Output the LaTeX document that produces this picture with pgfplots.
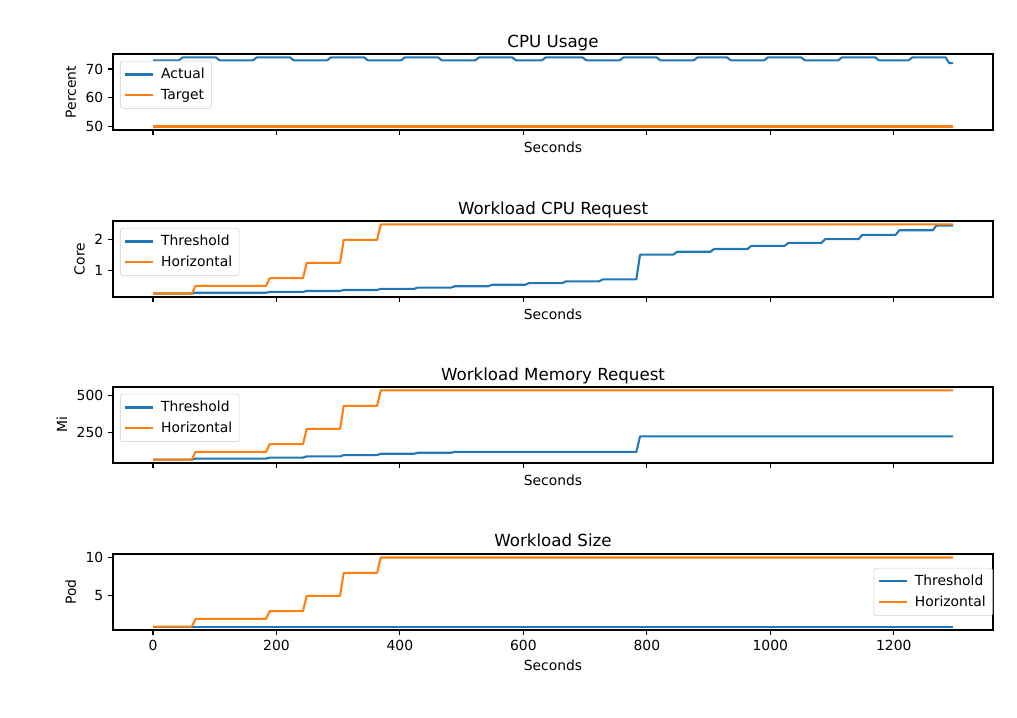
\documentclass[border=0pt]{standalone}
\usepackage{fontspec}
\setmainfont{DejaVu Sans}
\usepackage{pgfplots}
\pgfplotsset{compat=1.18}
\definecolor{mblue}{HTML}{1F77B4}
\definecolor{morange}{HTML}{FF7F0E}
\definecolor{legedge}{HTML}{CCCCCC}

\pgfplotsset{
  panel/.style={
    scale only axis, width=633.6pt, height=54.72pt,
    xmin=-64.8, xmax=1360.8,
    xtick={0,200,...,1200},
    tick pos=left, tick align=outside,
    major tick length=3.5pt,
    every tick/.style={black, line width=0.8pt},
    axis line style={line width=0.8pt},
    /pgf/number format/assume math mode=true,
    /pgf/number format/1000 sep={},
    tick label style={font=\fontsize{10}{12}\selectfont},
    label style={font=\fontsize{10}{12}\selectfont},
    title style={font=\fontsize{12}{14}\selectfont, yshift=-7pt},
    xlabel={Seconds},
    legend cell align=left,
    legend image code/.code={\draw[##1] (0pt,0pt) -- (20pt,0pt);},
    legend style={font=\fontsize{10}{12}\selectfont, draw=legedge, rounded corners=2pt,
      fill=white, fill opacity=0.8, text opacity=1, inner xsep=3pt, inner ysep=3pt,
      row sep=2pt, column sep=3pt, at={(0,1)}, anchor=north west, xshift=5pt, yshift=-5pt},
  },
  upper/.style={xticklabels={}, xlabel style={yshift=5pt}},
  sa/.style={mblue, line width=1.5pt, line join=round},
  sb/.style={morange, line width=1.5pt, line join=round},
}

\begin{document}
\begin{tikzpicture}
\useasboundingbox (0,0) rectangle (732.24pt,516.24pt);

% CPU usage
\begin{axis}[panel, upper, at={(81.36pt,422.64pt)}, anchor=south west,
  title={CPU Usage}, ylabel={Percent},
  ymin=48.8, ymax=75.2, ytick={50,60,70}]
\addplot[sa] coordinates {(0,73) (42,73) (48,74) (102,74) (108,73) (162,73) (168,74) (222,74) (228,73) (282,73) (288,74) (342,74) (348,73) (402,73) (408,74) (462,74) (468,73) (522,73) (528,74) (582,74) (588,73) (630,73) (636,74) (696,74) (702,73) (756,73) (762,74) (816,74) (822,73) (876,73) (882,74) (930,74) (936,73) (990,73) (996,74) (1050,74) (1056,73) (1110,73) (1116,74) (1170,74) (1176,73) (1224,73) (1230,74) (1284,74) (1290,72) (1296,72)};
\addlegendentry{Actual}
\addplot[sb] coordinates {(0,50) (1296,50)};
\addlegendentry{Target}
\end{axis}

% CPU request
\begin{axis}[panel, upper, at={(81.36pt,302.4pt)}, anchor=south west,
  title={Workload CPU Request}, ylabel={Core},
  ymin=0.1375, ymax=2.6125, ytick={1,2}]
\addplot[sa] coordinates {(0,0.25) (63,0.25) (69,0.275) (183,0.275) (189,0.3025) (243,0.3025) (249,0.333) (303,0.333) (309,0.366) (363,0.366) (369,0.403) (423,0.403) (429,0.443) (483,0.443) (489,0.487) (543,0.487) (549,0.536) (603,0.536) (609,0.589) (663,0.589) (669,0.648) (723,0.648) (729,0.713) (783,0.713) (789,1.52) (843,1.52) (849,1.61) (903,1.61) (909,1.70) (963,1.70) (969,1.80) (1023,1.80) (1029,1.90) (1083,1.90) (1089,2.02) (1143,2.02) (1149,2.16) (1203,2.16) (1209,2.31) (1263,2.31) (1269,2.46) (1296,2.46)};
\addlegendentry{Threshold}
\addplot[sb] coordinates {(0,0.25) (63,0.25) (69,0.5) (183,0.5) (189,0.75) (243,0.75) (249,1.25) (303,1.25) (309,2.0) (363,2.0) (369,2.5) (1296,2.5)};
\addlegendentry{Horizontal}
\end{axis}

% memory request
\begin{axis}[panel, upper, at={(81.36pt,182.88pt)}, anchor=south west,
  title={Workload Memory Request}, ylabel={Mi},
  ymin=40.6, ymax=555.4, ytick={250,500}]
\addplot[sa] coordinates {(0,64) (63,64) (69,70) (183,70) (189,77) (243,77) (249,85) (303,85) (309,94) (363,94) (369,103) (423,103) (429,110) (483,110) (489,116) (783,116) (789,221) (1296,221)};
\addlegendentry{Threshold}
\addplot[sb] coordinates {(0,64) (63,64) (69,116) (183,116) (189,168) (243,168) (249,272) (303,272) (309,428) (363,428) (369,532) (1296,532)};
\addlegendentry{Horizontal}
\end{axis}

% workload size
\begin{axis}[panel, at={(81.36pt,62.64pt)}, anchor=south west,
  title={Workload Size}, ylabel={Pod}, title style={yshift=3pt},
  ymin=0.55, ymax=10.45, ytick={5,10},
  legend style={at={(1,1)}, anchor=north east, xshift=-5pt, yshift=-5pt}]
\addplot[sa] coordinates {(0,1) (1296,1)};
\addlegendentry{Threshold}
\addplot[sb] coordinates {(0,1) (63,1) (69,2) (183,2) (189,3) (243,3) (249,5) (303,5) (309,8) (363,8) (369,10) (1296,10)};
\addlegendentry{Horizontal}
\end{axis}
\end{tikzpicture}
\end{document}
